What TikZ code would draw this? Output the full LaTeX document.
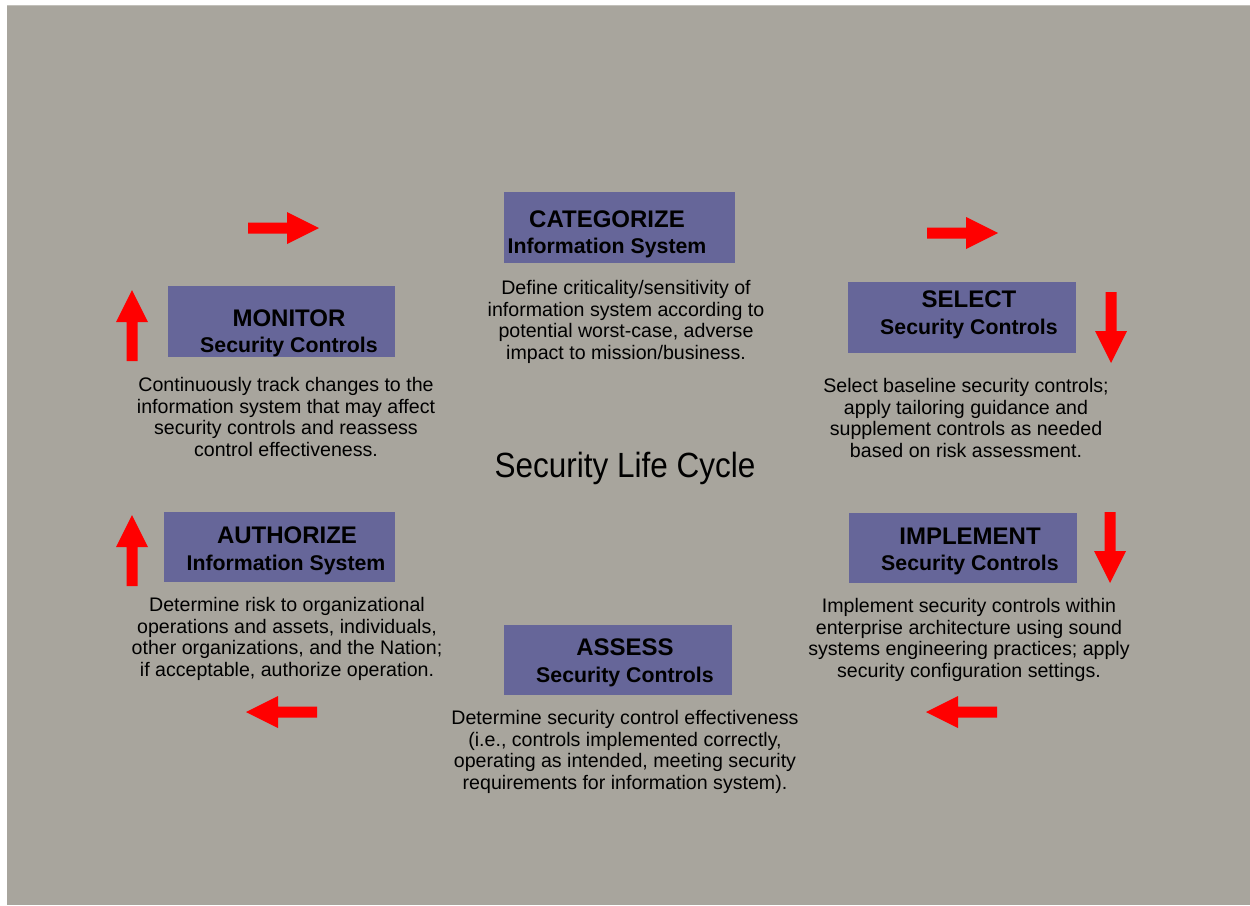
\documentclass[tikz,border=0pt]{standalone}
\usepackage{fontspec}
\setmainfont{Liberation Sans}
\usepackage{graphicx}
\definecolor{bggrey}{HTML}{A8A59D}
\definecolor{boxblue}{HTML}{666699}
\definecolor{arrowred}{HTML}{FF0000}
\begin{document}
\begin{tikzpicture}[x=1pt,y=-1pt,
  box/.style={rectangle, fill=boxblue, draw=none, inner sep=0pt},
  ttl/.style={anchor=base, inner sep=0pt, font=\fontsize{24}{28}\selectfont\bfseries},
  sub/.style={anchor=base, inner sep=0pt, font=\fontsize{21.3}{25}\selectfont\bfseries},
  desc/.style={anchor=north, inner sep=0pt, align=center, font=\fontsize{19.6}{21.7}\selectfont},
  redarrow/.pic={\fill[arrowred] (0,-5.5) -- (39,-5.5) -- (39,-16) -- (71,0) -- (39,16) -- (39,5.5) -- (0,5.5) -- cycle;}
]
\useasboundingbox (0,0) rectangle (1250,905);
\fill[white] (0,0) rectangle (1250,905);
\fill[bggrey] (7,5) rectangle (1250,905);
\draw[bggrey!70!white, line width=1pt] (7,5.5) -- (1250,5.5);

% boxes
\node[box, minimum width=231pt, minimum height=71pt] (catbox) at (619.5,227.5) {};
\node[box, minimum width=227pt, minimum height=71pt] (monbox) at (281.5,321.5) {};
\node[box, minimum width=228pt, minimum height=71pt] (selbox) at (962,317.5) {};
\node[box, minimum width=231pt, minimum height=70pt] (autbox) at (279.5,547) {};
\node[box, minimum width=228pt, minimum height=70pt] (impbox) at (963,548) {};
\node[box, minimum width=228pt, minimum height=70pt] (assbox) at (618,660) {};

% box titles
\node[ttl] (catttl) at (607,227) {CATEGORIZE};
\node[sub] (catsub) at (607,253) {Information System};
\node[ttl] (monttl) at (289,326) {MONITOR};
\node[sub] (monsub) at (289,352) {Security Controls};
\node[ttl] (selttl) at (969,307) {SELECT};
\node[sub] (selsub) at (969,334) {Security Controls};
\node[ttl] (autttl) at (287,543) {AUTHORIZE};
\node[sub] (autsub) at (286,570) {Information System};
\node[ttl] (impttl) at (970,544) {IMPLEMENT};
\node[sub] (impsub) at (970,570) {Security Controls};
\node[ttl] (assttl) at (625,655) {ASSESS};
\node[sub] (asssub) at (625,682) {Security Controls};

% descriptions
\node[desc] (catdesc) at (626,280) {Define criticality/sensitivity of\\information system according to\\potential worst-case, adverse\\impact to mission/business.};
\node[desc] (mondesc) at (286,377) {Continuously track changes to the\\information system that may affect\\security controls and reassess\\control effectiveness.};
\node[desc] (seldesc) at (966,378) {Select baseline security controls;\\apply tailoring guidance and\\supplement controls as needed\\based on risk assessment.};
\node[desc] (autdesc) at (287,597) {Determine risk to organizational\\operations and assets, individuals,\\other organizations, and the Nation;\\if acceptable, authorize operation.};
\node[desc] (impdesc) at (969,598) {Implement security controls within\\enterprise architecture using sound\\systems engineering practices; apply\\security configuration settings.};
\node[desc] (assdesc) at (625,710) {Determine security control effectiveness\\(i.e., controls implemented correctly,\\operating as intended, meeting security\\requirements for information system).};

% centre title
\node[anchor=base, inner sep=0pt, font=\fontsize{35}{40}\selectfont] (lifecycle) at (625,477) {\scalebox{0.9}[1]{Security Life Cycle}};

% red arrows
\pic at (248,228) {redarrow};
\pic at (927,233) {redarrow};
\pic[rotate=-90] at (1111,292) {redarrow};
\pic[rotate=-90] at (1110,512) {redarrow};
\pic[rotate=180] at (997,712) {redarrow};
\pic[rotate=180] at (317,712) {redarrow};
\pic[rotate=90] at (132,586) {redarrow};
\pic[rotate=90] at (132,361) {redarrow};
\end{tikzpicture}
\end{document}
